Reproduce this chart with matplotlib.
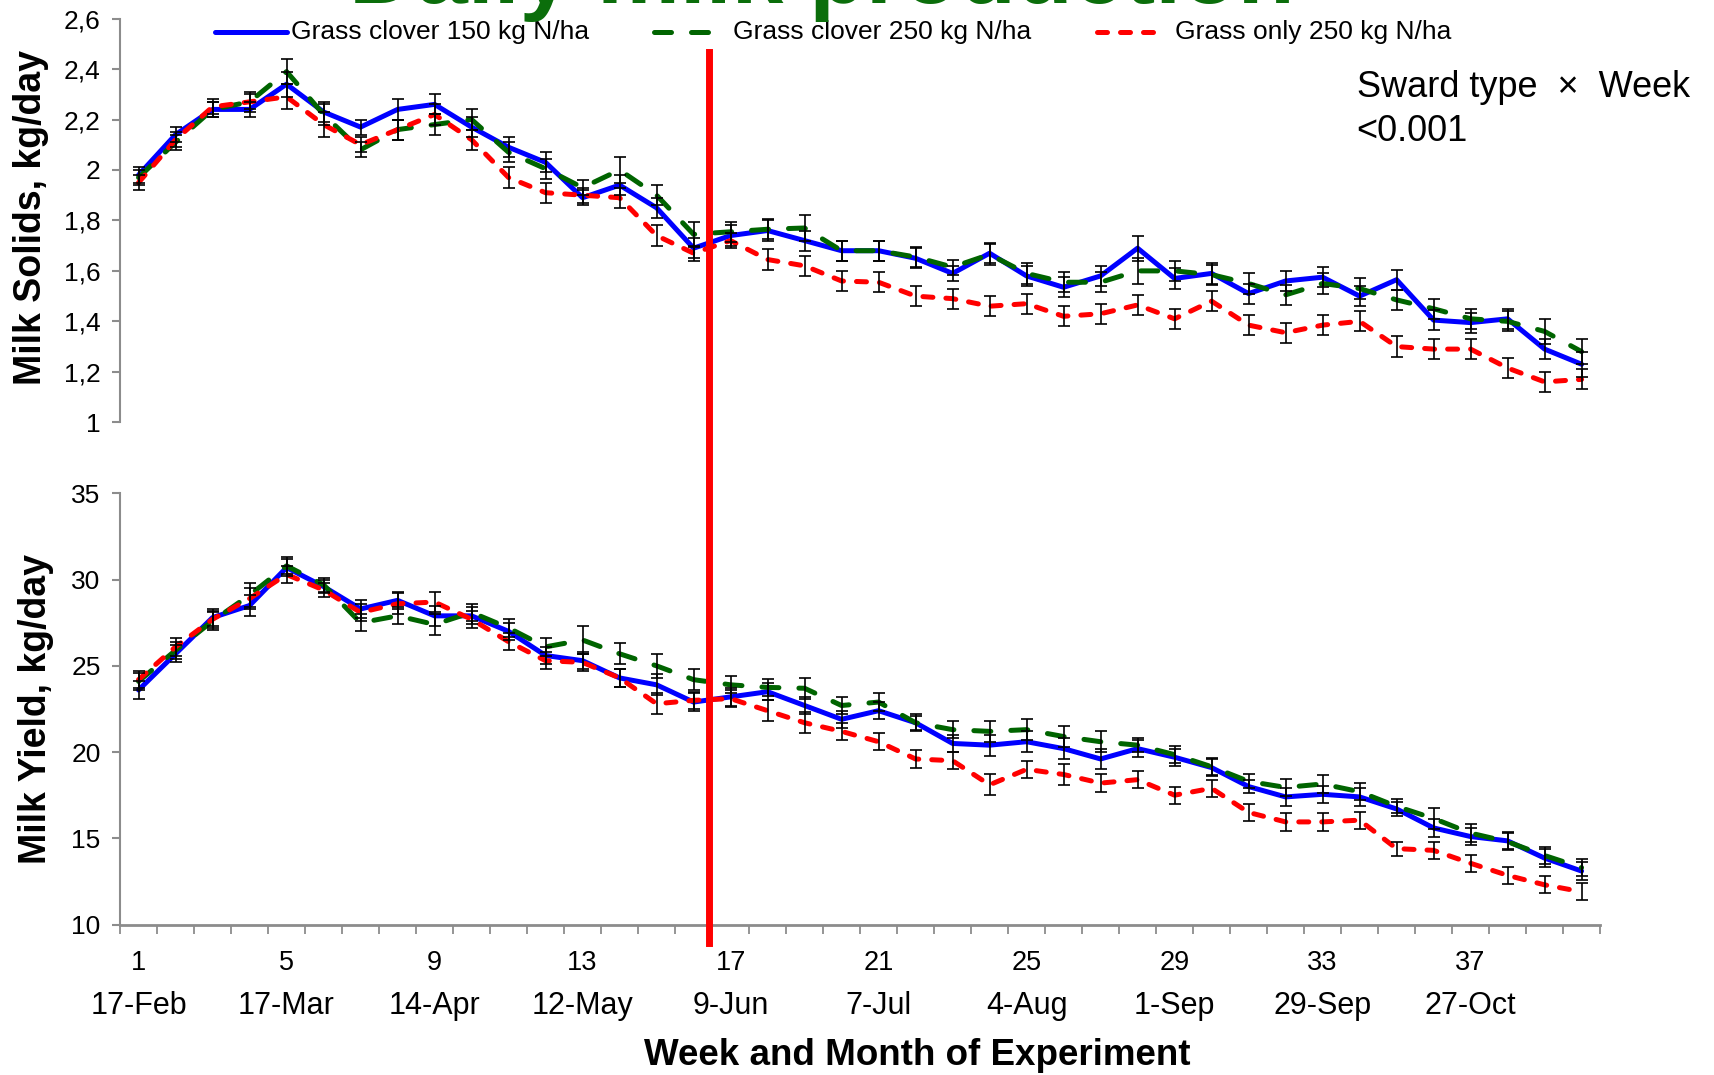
import matplotlib
matplotlib.use('Agg')
import matplotlib.pyplot as plt
from matplotlib.lines import Line2D
import matplotlib.transforms as mtransforms
from matplotlib.ticker import FixedLocator, FuncFormatter

plt.rcParams['font.family'] = ['Liberation Sans', 'DejaVu Sans']

# ---------------- data ----------------
weeks = list(range(1, 41))

series_labels = ["Grass clover 150 kg N/ha", "Grass clover 250 kg N/ha", "Grass only 250 kg N/ha"]

ms_gc150 = [1.98, 2.14, 2.24, 2.24, 2.34, 2.23, 2.17, 2.24, 2.26, 2.17, 2.09, 2.03, 1.89, 1.94, 1.85, 1.69,
            1.74, 1.76, 1.72, 1.68, 1.68, 1.65, 1.59, 1.67, 1.58, 1.535, 1.58, 1.69, 1.57, 1.59, 1.51, 1.56,
            1.575, 1.50, 1.565, 1.405, 1.395, 1.41, 1.29, 1.23]
ms_gc250 = [1.97, 2.11, 2.24, 2.27, 2.39, 2.22, 2.08, 2.16, 2.18, 2.20, 2.07, 2.005, 1.93, 2.00, 1.90, 1.745,
            1.755, 1.765, 1.77, 1.68, 1.68, 1.655, 1.615, 1.665, 1.59, 1.555, 1.555, 1.60, 1.60, 1.585, 1.55, 1.505,
            1.55, 1.53, 1.485, 1.45, 1.41, 1.40, 1.36, 1.28]
ms_go250 = [1.95, 2.12, 2.25, 2.27, 2.29, 2.18, 2.10, 2.16, 2.22, 2.12, 1.97, 1.91, 1.90, 1.89, 1.74, 1.67,
            1.72, 1.645, 1.62, 1.56, 1.555, 1.50, 1.49, 1.46, 1.47, 1.42, 1.43, 1.465, 1.41, 1.48, 1.385, 1.355,
            1.385, 1.40, 1.30, 1.29, 1.29, 1.215, 1.16, 1.17]

se_ms_gc150 = [0.03, 0.03, 0.03, 0.03, 0.05, 0.04, 0.03, 0.04, 0.04, 0.04, 0.04, 0.04, 0.03, 0.04, 0.04, 0.04,
               0.04, 0.04, 0.04, 0.04, 0.04, 0.04, 0.03, 0.04, 0.04, 0.04, 0.04, 0.05, 0.04, 0.04, 0.04, 0.04,
               0.04, 0.04, 0.04, 0.04, 0.04, 0.04, 0.04, 0.05]
se_ms_gc250 = [0.03, 0.03, 0.03, 0.04, 0.05, 0.04, 0.03, 0.04, 0.04, 0.04, 0.04, 0.04, 0.03, 0.05, 0.04, 0.05,
               0.04, 0.04, 0.05, 0.04, 0.04, 0.04, 0.03, 0.04, 0.04, 0.04, 0.04, 0.05, 0.04, 0.04, 0.04, 0.04,
               0.04, 0.04, 0.04, 0.04, 0.04, 0.04, 0.05, 0.05]
se_ms_go250 = [0.03, 0.03, 0.03, 0.03, 0.05, 0.05, 0.03, 0.04, 0.04, 0.04, 0.04, 0.04, 0.03, 0.04, 0.04, 0.03,
               0.03, 0.04, 0.04, 0.04, 0.04, 0.04, 0.04, 0.04, 0.04, 0.04, 0.04, 0.04, 0.04, 0.04, 0.04, 0.04,
               0.04, 0.04, 0.04, 0.04, 0.04, 0.04, 0.04, 0.04]

my_gc150 = [23.6, 25.7, 27.8, 28.5, 30.7, 29.6, 28.3, 28.8, 27.9, 27.9, 27.0, 25.6, 25.3, 24.3, 23.9, 22.9,
            23.2, 23.5, 22.7, 21.9, 22.4, 21.7, 20.5, 20.4, 20.6, 20.2, 19.6, 20.2, 19.7, 19.1, 18.0, 17.4,
            17.55, 17.4, 16.7, 15.6, 15.1, 14.85, 13.85, 13.1]
my_gc250 = [24.1, 25.9, 27.6, 29.1, 30.8, 29.7, 27.5, 27.9, 27.4, 28.1, 27.2, 26.1, 26.5, 25.7, 25.0, 24.2,
            23.9, 23.75, 23.7, 22.7, 22.9, 21.7, 21.3, 21.2, 21.3, 20.9, 20.6, 20.4, 19.85, 19.15, 18.3, 17.95,
            18.15, 17.7, 16.85, 16.15, 15.3, 14.8, 14.0, 13.3]
my_go250 = [24.2, 26.1, 27.7, 28.9, 30.3, 29.4, 28.1, 28.6, 28.7, 27.7, 26.4, 25.3, 25.2, 24.3, 22.8, 23.0,
            23.1, 22.4, 21.7, 21.2, 20.6, 19.6, 19.5, 18.1, 19.0, 18.7, 18.2, 18.4, 17.5, 17.9, 16.5, 15.95,
            15.95, 16.05, 14.4, 14.3, 13.55, 12.85, 12.3, 11.9]

se_my_gc150 = [0.5, 0.5, 0.5, 0.6, 0.5, 0.4, 0.5, 0.5, 0.6, 0.5, 0.5, 0.5, 0.5, 0.5, 0.6, 0.5,
               0.5, 0.5, 0.5, 0.5, 0.5, 0.5, 0.5, 0.6, 0.6, 0.6, 0.6, 0.5, 0.5, 0.5, 0.4, 0.5,
               0.5, 0.5, 0.4, 0.5, 0.5, 0.5, 0.5, 0.5]
se_my_gc250 = [0.5, 0.5, 0.5, 0.7, 0.5, 0.4, 0.5, 0.5, 0.6, 0.5, 0.5, 0.5, 0.8, 0.6, 0.7, 0.6,
               0.5, 0.5, 0.6, 0.5, 0.5, 0.4, 0.5, 0.6, 0.6, 0.6, 0.6, 0.4, 0.5, 0.5, 0.4, 0.5,
               0.5, 0.5, 0.4, 0.6, 0.5, 0.5, 0.5, 0.5]
se_my_go250 = [0.5, 0.5, 0.5, 0.6, 0.5, 0.4, 0.5, 0.6, 0.6, 0.5, 0.5, 0.5, 0.5, 0.5, 0.6, 0.5,
               0.5, 0.6, 0.6, 0.5, 0.5, 0.5, 0.5, 0.6, 0.5, 0.6, 0.5, 0.5, 0.5, 0.5, 0.5, 0.5,
               0.5, 0.5, 0.4, 0.5, 0.5, 0.5, 0.5, 0.5]

ms_ticks = [1.0, 1.2, 1.4, 1.6, 1.8, 2.0, 2.2, 2.4, 2.6]
my_ticks = [10, 15, 20, 25, 30, 35]
week_ticks = [1, 5, 9, 13, 17, 21, 25, 29, 33, 37]
month_labels = ["17-Feb", "17-Mar", "14-Apr", "12-May", "9-Jun", "7-Jul", "4-Aug", "1-Sep", "29-Sep", "27-Oct"]

title_text = "Daily milk production"
interaction_text = ["Sward type  \u00d7  Week", "<0.001"]
switch_week = 16.42

# ---------------- style ----------------
colors = ['#0000ff', '#006400', '#ff0000']
dash_styles = [None, (3.4, 4.0), (2.0, 2.6)]
LW = 3.6
gray = '#8c8c8c'

fig = plt.figure(figsize=(17.15, 10.75), dpi=100)
ax1 = fig.add_axes([0.070, 0.6072, 0.863, 0.3755])
ax2 = fig.add_axes([0.070, 0.140, 0.863, 0.401])

ms_series = [ms_gc150, ms_gc250, ms_go250]
ms_se = [se_ms_gc150, se_ms_gc250, se_ms_go250]
my_series = [my_gc150, my_gc250, my_go250]
my_se = [se_my_gc150, se_my_gc250, se_my_go250]


def draw(ax, vals_list, se_list):
    for i, (vals, col, dsh) in enumerate(zip(vals_list, colors, dash_styles)):
        kw = dict(color=col, lw=LW, zorder=2 + i, solid_capstyle='round', solid_joinstyle='round')
        if dsh is not None:
            kw.update(dashes=dsh, dash_capstyle='round', dash_joinstyle='round')
        ax.plot(weeks, vals, **kw)
    for vals, se in zip(vals_list, se_list):
        ax.errorbar(weeks, vals, yerr=se, fmt='none', ecolor='black', elinewidth=1.2,
                    capsize=4, capthick=1.2, zorder=6)


draw(ax1, ms_series, ms_se)
draw(ax2, my_series, my_se)

fmt = FuncFormatter(lambda v, _: (f"{v:.1f}".rstrip('0').rstrip('.')).replace('.', ','))

for ax in (ax1, ax2):
    ax.set_xlim(0.5, 40.5)
    for s in ('top', 'right'):
        ax.spines[s].set_visible(False)
    ax.spines['left'].set_color(gray)
    ax.spines['left'].set_linewidth(1.5)
    ax.tick_params(axis='y', direction='out', length=6, width=1.5, color=gray,
                   labelsize=19, pad=8, labelcolor='black')

ax1.set_ylim(1.0, 2.6)
ax1.set_yticks(ms_ticks)
ax1.yaxis.set_major_formatter(fmt)
ax1.spines['bottom'].set_visible(False)
ax1.tick_params(axis='x', bottom=False, labelbottom=False)

ax2.set_ylim(10, 35)
ax2.set_yticks(my_ticks)
ax2.spines['bottom'].set_color(gray)
ax2.spines['bottom'].set_linewidth(2)
ax2.set_xticks(week_ticks)
ax2.set_xticklabels([str(w) for w in week_ticks])
ax2.xaxis.set_minor_locator(FixedLocator([w + 0.5 for w in range(0, 41)]))
ax2.tick_params(axis='x', which='major', length=0, labelsize=19.5, pad=18)
ax2.tick_params(axis='x', which='minor', direction='out', length=6.5, width=1.3, color=gray)

blend = mtransforms.blended_transform_factory(ax2.transData, fig.transFigure)
for wk, m in zip(week_ticks, month_labels):
    ax2.text(wk, 0.064, m, transform=blend, ha='center', va='center', fontsize=22)

# vertical red line across both panels
fig.add_artist(Line2D([switch_week, switch_week], [0.1228, 0.9512], transform=blend,
                      color='#ff0000', lw=5, zorder=20))

# legend (manual)
leg_y = 0.970
leg_items = [(0.1254, 0.1673, 0.1697), (0.3813, 0.4210, 0.4274), (0.6397, 0.6781, 0.6851)]
for (x0, x1, xt), lab, col, dsh in zip(leg_items, series_labels, colors, dash_styles):
    kw = dict(color=col, lw=LW, transform=fig.transFigure, solid_capstyle='round')
    if dsh is not None:
        kw.update(dashes=dsh, dash_capstyle='round')
    fig.add_artist(Line2D([x0, x1], [leg_y, leg_y], **kw))
    fig.text(xt, leg_y, lab, fontsize=19, va='center', ha='left')

# title (cut off at top)
fig.text(0.479, 0.997, title_text, fontsize=67, fontweight='bold', color='#0b6e0b',
         ha='center', va='baseline')

# interaction annotation
fig.text(0.791, 0.9186, interaction_text[0], fontsize=26, va='center', ha='left')
fig.text(0.791, 0.878, interaction_text[1], fontsize=26, va='center', ha='left')

# axis labels
fig.text(0.018, 0.798, "Milk Solids, kg/day", rotation=90, fontsize=27, fontweight='bold',
         ha='center', va='center')
fig.text(0.021, 0.340, "Milk Yield, kg/day", rotation=90, fontsize=27, fontweight='bold',
         ha='center', va='center')
fig.text(0.535, 0.0177, "Week and Month of Experiment", fontsize=26.5, fontweight='bold',
         ha='center', va='center')

fig.savefig('out.png', dpi=100)
